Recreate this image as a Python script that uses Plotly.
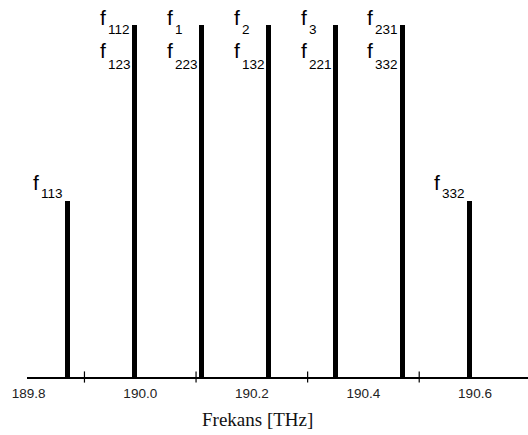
import plotly.graph_objects as go

# Spectral lines (THz) and their relative amplitudes
freqs = [189.87, 189.99, 190.11, 190.23, 190.35, 190.47, 190.59]
amplitudes = [1, 2, 2, 2, 2, 2, 1]
# Subscripts of the "f" labels stacked above each line
line_labels = [
    ["113"],
    ["112", "123"],
    ["1", "223"],
    ["2", "132"],
    ["3", "221"],
    ["231", "332"],
    ["332"],
]
tick_label_vals = [189.8, 190.0, 190.2, 190.4, 190.6]
tick_label_text = ["189.8", "190.0", "190.2", "190.4", "190.6"]
tick_mark_vals = [189.9, 190.1, 190.3, 190.5]

W, H = 528, 435
ML, MR, MT, MB = 27, 0, 0, 58
X_RANGE = [189.797, 190.695]
Y_RANGE = [0, 2.14]

fig = go.Figure()

fig.add_trace(go.Bar(
    x=freqs, y=amplitudes, width=0.009,
    marker=dict(color="black", line=dict(width=0)),
    hoverinfo="x+y", showlegend=False,
))

# Small tick marks crossing the axis line
fig.add_trace(go.Scatter(
    x=tick_mark_vals, y=[0] * len(tick_mark_vals), mode="markers",
    marker=dict(symbol="line-ns", size=8, line=dict(color="black", width=1.2)),
    cliponaxis=False, hoverinfo="skip", showlegend=False,
))

F_SIZE, S_SIZE = 21, 13.5
F_MID, S_MID = 0.3465 * F_SIZE, 0.3465 * S_SIZE
X_OFF = -37
SUB_GAP = 8
# baseline offsets (px below bar top) for "f" and subscript, per stacked line
OFFS_TALL = [(0, 10), (33, 45)]
OFFS_SHORT = [(-11, -3)]

annotations = []
for f, a, subs in zip(freqs, amplitudes, line_labels):
    offs = OFFS_TALL if len(subs) > 1 else OFFS_SHORT
    for sub, (df, ds) in zip(subs, offs):
        annotations.append(dict(
            x=f, y=a, xref="x", yref="y", text="f", showarrow=False,
            xanchor="left", yanchor="middle", xshift=X_OFF, yshift=F_MID - df,
            font=dict(family="Liberation Sans, Arial", size=F_SIZE, color="black"),
        ))
        annotations.append(dict(
            x=f, y=a, xref="x", yref="y", text=sub, showarrow=False,
            xanchor="left", yanchor="middle", xshift=X_OFF + SUB_GAP, yshift=S_MID - ds,
            font=dict(family="Liberation Sans, Arial", size=S_SIZE, color="black"),
        ))

annotations.append(dict(
    x=0.46, y=0, xref="paper", yref="paper", text="Frekans [THz]", showarrow=False,
    xanchor="center", yanchor="middle", yshift=-42,
    font=dict(family="Liberation Serif, Times New Roman", size=19, color="#111"),
))

fig.update_layout(
    width=W, height=H,
    margin=dict(l=ML, r=MR, t=MT, b=MB, pad=0),
    paper_bgcolor="white", plot_bgcolor="white",
    bargap=0,
    annotations=annotations,
    xaxis=dict(
        range=X_RANGE, showgrid=False, zeroline=False,
        showline=True, linecolor="black", linewidth=1.5,
        tickmode="array", tickvals=tick_label_vals, ticktext=tick_label_text,
        ticks="", ticklabelstandoff=3,
        tickfont=dict(family="Liberation Sans, Arial", size=13.5, color="#222"),
        fixedrange=True,
    ),
    yaxis=dict(
        range=Y_RANGE, visible=False, showgrid=False, zeroline=False,
        fixedrange=True,
    ),
)

fig.write_html("out.html")
